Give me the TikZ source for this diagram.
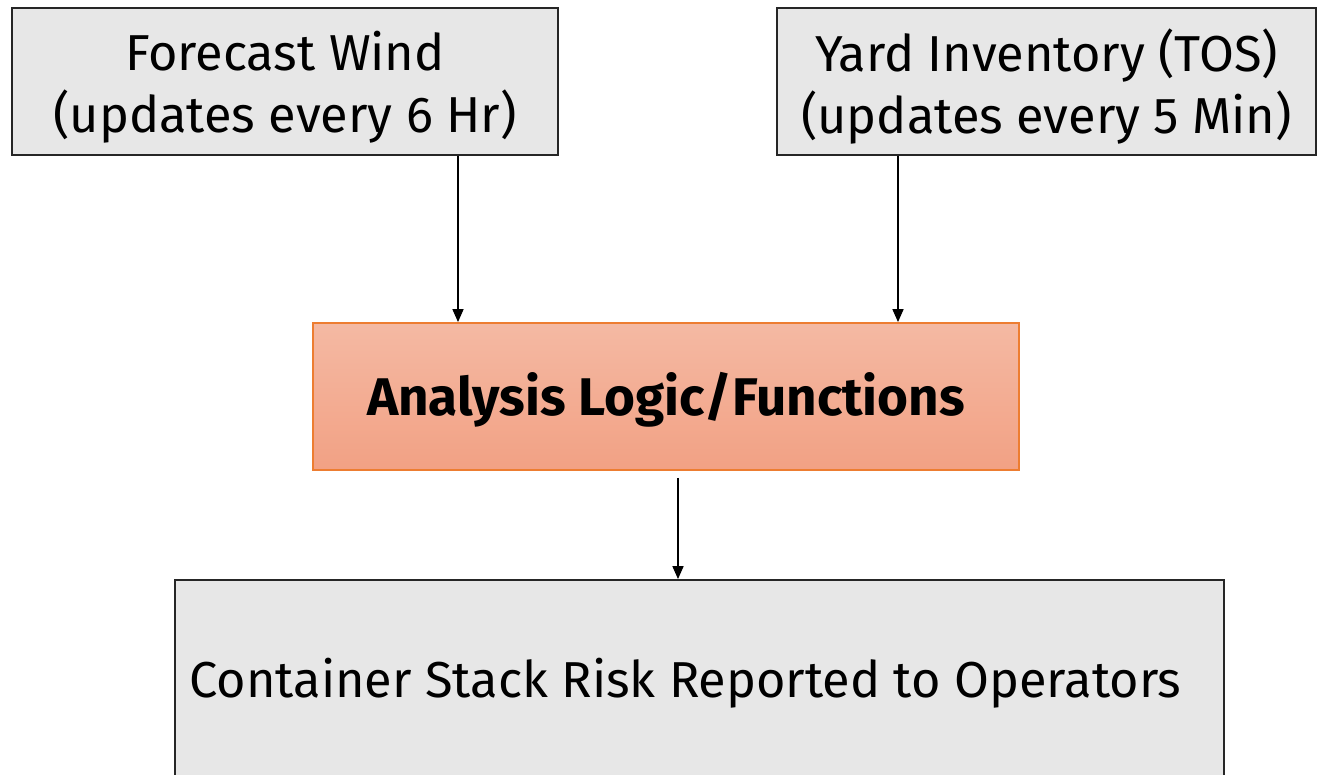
\documentclass[tikz,border=0pt]{standalone}
\usepackage{fontspec}
\setmainfont{Fira Sans}
\usetikzlibrary{arrows.meta}
\definecolor{boxgrey}{HTML}{E7E7E7}
\definecolor{logictop}{HTML}{F4B9A3}
\definecolor{logicbot}{HTML}{F2A184}
\definecolor{logicedge}{HTML}{ED7D31}
\tikzset{
  inputbox/.style={draw=black!85, line width=1.8pt, fill=boxgrey, rectangle,
    minimum width=#1, minimum height=147, inner sep=0pt, align=center,
    text depth=0pt, font=\fontsize{50.5}{62}\selectfont},
  logicbox/.style={draw=logicedge, line width=1.8pt, rectangle,
    top color=logictop, bottom color=logicbot,
    minimum width=706, minimum height=147, inner sep=0pt,
    text height=38pt, text depth=0pt,
    font=\fontsize{53}{60}\selectfont\bfseries},
  outbox/.style={draw=black!85, line width=1.8pt, fill=boxgrey, rectangle,
    minimum width=1049, minimum height=210, inner sep=0pt},
  flow/.style={draw=black, line width=1.6pt, -{Triangle[length=13pt,width=11pt]}}
}
\begin{document}
\begin{tikzpicture}[x=1pt,y=-1pt]
  \useasboundingbox (0,0) rectangle (1329,775);
  \clip (0,0) rectangle (1329,775);
  \fill[white] (0,0) rectangle (1329,775);

  % sources
  \node[inputbox=546] (wind) at (285,81.5) {Forecast Wind\\(updates every 6 Hr)};
  \node[inputbox=539] (yard) at (1046.5,81.5) {Yard Inventory (TOS)\\(updates every 5 Min)};

  % processing
  \node[logicbox] (logic) at (666,396.5) {Analysis Logic/Functions};

  % result (box runs past the lower edge)
  \node[outbox] (report) at (699.5,685) {};
  \node[anchor=base west, inner sep=0pt, font=\fontsize{50.5}{60}\selectfont] (reporttext)
    at ([xshift=15pt,yshift=-12pt]report.west) {Container Stack Risk Reported to Operators};

  % connectors
  \draw[flow] (wind.south -| 458,0) -- (logic.north -| 458,0);
  \draw[flow] (yard.south -| 898,0) -- (logic.north -| 898,0);
  \draw[flow] ([yshift=-7pt]logic.south -| 678,0) -- (report.north -| 678,0);
\end{tikzpicture}
\end{document}
